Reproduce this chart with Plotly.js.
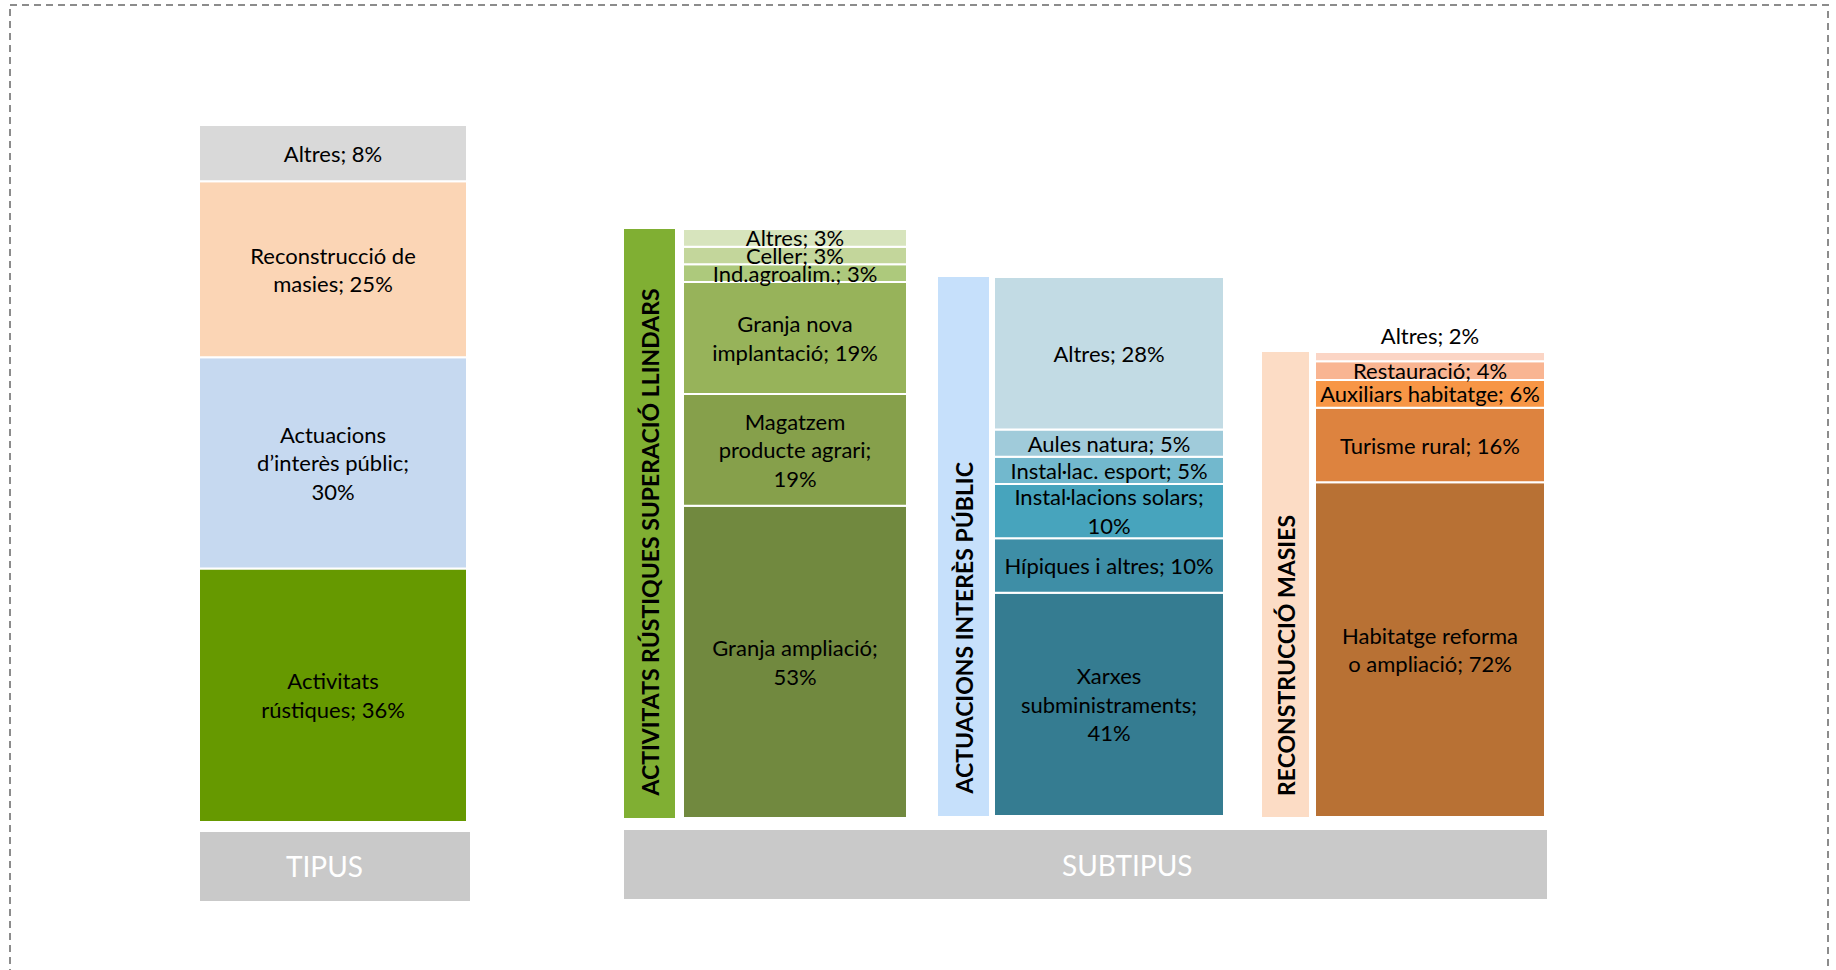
<!DOCTYPE html>
<html>
<head>
<meta charset="utf-8">
<script src="https://cdn.plot.ly/plotly-3.0.1.min.js"></script>
<style>
  html, body { margin: 0; padding: 0; background: #ffffff; }
  #chart { width: 1836px; height: 970px; }
</style>
</head>
<body>
<div id="chart"></div>
<script>
// ---------------- DATA ----------------
// TIPUS (bottom to top)
const tipusNames  = ['Activitats<br>rústiques', 'Actuacions<br>d’interès públic', 'Reconstrucció de<br>masies', 'Altres'];
const tipusValues = [36, 30, 25, 8];
const tipusBreaks = [' ', '<br>', ' ', ' '];

// Group labels (subtype side bars)
const groupLabels = ['ACTIVITATS RÚSTIQUES SUPERACIÓ LLINDARS', 'ACTUACIONS INTERÈS PÚBLIC', 'RECONSTRUCCIÓ MASIES'];

// Subtypes: Activitats rústiques (bottom to top)
const rustNames  = ['Granja ampliació', 'Magatzem<br>producte agrari', 'Granja nova<br>implantació', 'Ind.agroalim.', 'Celler', 'Altres'];
const rustValues = [53, 19, 19, 3, 3, 3];
const rustBreaks = ['<br>', '<br>', ' ', ' ', ' ', ' '];

// Subtypes: Actuacions interès públic (bottom to top)
const publNames  = ['Xarxes<br>subministraments', 'Hípiques i altres', 'Instal·lacions solars', 'Instal·lac. esport', 'Aules natura', 'Altres'];
const publValues = [41, 10, 10, 5, 5, 28];
const publBreaks = ['<br>', ' ', '<br>', ' ', ' ', ' '];

// Subtypes: Reconstrucció masies (bottom to top)
const masNames  = ['Habitatge reforma<br>o ampliació', 'Turisme rural', 'Auxiliars habitatge', 'Restauració', 'Altres'];
const masValues = [72, 16, 6, 4, 2];
const masBreaks = [' ', ' ', ' ', ' ', ' '];

// Footer labels
const footerLabels = ['TIPUS', 'SUBTIPUS'];

// ---------------- STYLE ----------------
const W = 1836, H = 970;
const FONT = 'Lato, "Open Sans", sans-serif';
const tipusColors = ['#669900', '#C6D9F0', '#FBD5B5', '#D9D9D9'];
const rustColors  = ['#71893F', '#86A04B', '#97B35A', '#ADC97C', '#C3D69B', '#D7E4BD'];
const publColors  = ['#357C91', '#3E8EA6', '#47A4BD', '#72B8CD', '#A0CBDA', '#C2DBE4'];
const masColors   = ['#B87134', '#DD833F', '#F79646', '#F9B592', '#FBD5C5'];
const sideColors  = ['#80AF33', '#C6E0FB', '#FCDCC5'];

function xd(a, b) { return [a / W, b / W]; }
function yd(top, bottom) { return [1 - bottom / H, 1 - top / H]; }
const sum = a => a.reduce((s, v) => s + v, 0);

function labels(names, values, breaks) {
  return names.map((n, i) => n + ';' + breaks[i] + values[i] + '%');
}

function stackTrace(cat, values, colors, texts, xa, ya, positions) {
  const base = [];
  let s = 0;
  values.forEach(v => { base.push(s); s += v; });
  const tf = { family: FONT, size: 22, color: '#000000' };
  return {
    type: 'bar',
    x: values.map(() => cat),
    y: values,
    base: base,
    width: 1,
    marker: { color: colors, line: { color: '#ffffff', width: 2 } },
    text: texts,
    textposition: positions || 'inside',
    insidetextanchor: 'middle',
    constraintext: 'none',
    textfont: tf,
    insidetextfont: tf,
    outsidetextfont: tf,
    cliponaxis: false,
    xaxis: xa,
    yaxis: ya,
    hoverinfo: 'skip'
  };
}

function sideTrace(cat, total, color, xa, ya) {
  return {
    type: 'bar',
    x: [cat],
    y: [total],
    width: 1,
    marker: { color: color, line: { width: 0 } },
    xaxis: xa,
    yaxis: ya,
    hoverinfo: 'skip'
  };
}

const traces = [
  stackTrace('TIPUS', tipusValues, tipusColors, labels(tipusNames, tipusValues, tipusBreaks), 'x', 'y'),
  sideTrace(groupLabels[0], sum(rustValues), sideColors[0], 'x2', 'y2'),
  stackTrace(groupLabels[0], rustValues, rustColors, labels(rustNames, rustValues, rustBreaks), 'x3', 'y2'),
  sideTrace(groupLabels[1], sum(publValues), sideColors[1], 'x4', 'y3'),
  stackTrace(groupLabels[1], publValues, publColors, labels(publNames, publValues, publBreaks), 'x5', 'y3'),
  sideTrace(groupLabels[2], sum(masValues), sideColors[2], 'x6', 'y4'),
  stackTrace(groupLabels[2], masValues, masColors, labels(masNames, masValues, masBreaks), 'x7', 'y4',
             masValues.map((v, i) => i === masValues.length - 1 ? 'outside' : 'inside'))
];

function xaxis(dom, anchor) {
  return { domain: dom, type: 'category', range: [-0.5, 0.5], visible: false, fixedrange: true, anchor: anchor };
}
function yaxis(dom, total, anchor) {
  return { domain: dom, range: [0, total], visible: false, fixedrange: true, anchor: anchor };
}

const annotations = [];
groupLabels.forEach((g, i) => {
  annotations.push({
    xref: ['x2', 'x4', 'x6'][i], yref: ['y2', 'y3', 'y4'][i],
    x: g, y: 0, xanchor: 'center', yanchor: 'bottom', yshift: 19,
    textangle: -90, showarrow: false,
    text: '<b>' + g + '</b>',
    font: { family: FONT, size: 23, color: '#000000' }
  });
});
annotations.push({
  xref: 'paper', yref: 'paper', x: 324 / W, y: 1 - 866 / H, xanchor: 'center', yanchor: 'middle',
  showarrow: false, text: footerLabels[0], font: { family: FONT, size: 28, color: '#ffffff' }
});
annotations.push({
  xref: 'paper', yref: 'paper', x: 1127 / W, y: 1 - 865 / H, xanchor: 'center', yanchor: 'middle',
  showarrow: false, text: footerLabels[1], font: { family: FONT, size: 28, color: '#ffffff' }
});

const shapes = [
  { type: 'rect', xref: 'paper', yref: 'paper', x0: 10 / W, x1: 1828 / W, y0: 1 - 5 / H, y1: -0.05,
    line: { color: '#8C8C8C', width: 2, dash: '7px,5px' }, fillcolor: 'rgba(0,0,0,0)', layer: 'below' },
  { type: 'rect', xref: 'paper', yref: 'paper', x0: 200 / W, x1: 470 / W, y0: 1 - 901 / H, y1: 1 - 832 / H,
    line: { width: 0 }, fillcolor: '#C9C9C9', layer: 'below' },
  { type: 'rect', xref: 'paper', yref: 'paper', x0: 624 / W, x1: 1547 / W, y0: 1 - 899 / H, y1: 1 - 830 / H,
    line: { width: 0 }, fillcolor: '#C9C9C9', layer: 'below' }
];

const layout = {
  width: W, height: H,
  margin: { l: 0, r: 0, t: 0, b: 0, pad: 0 },
  paper_bgcolor: '#ffffff',
  plot_bgcolor: 'rgba(0,0,0,0)',
  showlegend: false,
  barmode: 'overlay',
  hovermode: false,
  xaxis:  xaxis(xd(199, 467), 'y'),
  xaxis2: xaxis(xd(624, 675), 'y2'),
  xaxis3: xaxis(xd(683, 907), 'y2'),
  xaxis4: xaxis(xd(938, 989), 'y3'),
  xaxis5: xaxis(xd(994, 1224), 'y3'),
  xaxis6: xaxis(xd(1262, 1309), 'y4'),
  xaxis7: xaxis(xd(1315, 1545), 'y4'),
  yaxis:  yaxis(yd(125, 822), sum(tipusValues), 'x'),
  yaxis2: yaxis(yd(229, 818), sum(rustValues), 'x2'),
  yaxis3: yaxis(yd(277, 816), sum(publValues), 'x4'),
  yaxis4: yaxis(yd(352, 817), sum(masValues), 'x6'),
  annotations: annotations,
  shapes: shapes
};

Plotly.newPlot('chart', traces, layout, { displayModeBar: false, staticPlot: true });
</script>
</body>
</html>
